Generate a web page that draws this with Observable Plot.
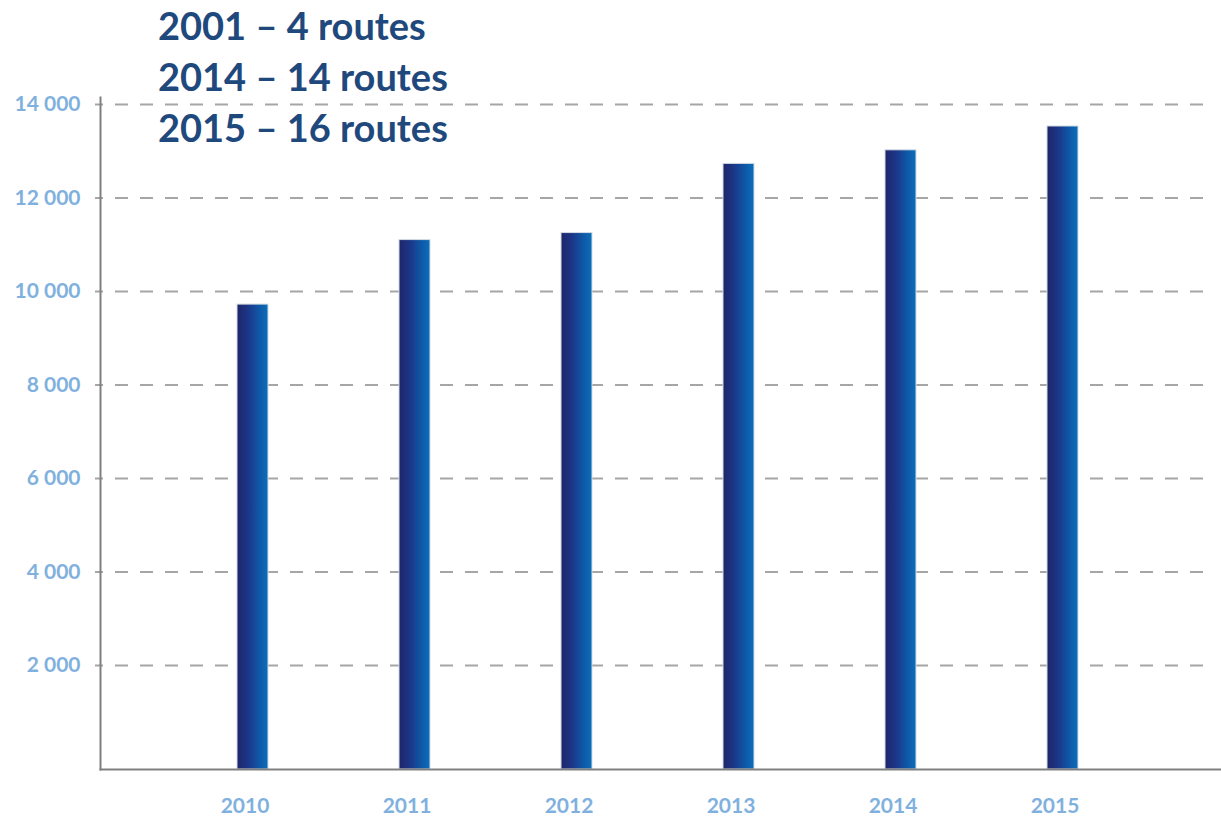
<!DOCTYPE html>
<html>
<head>
<meta charset="utf-8">
<script src="https://cdn.jsdelivr.net/npm/d3@7"></script>
<script src="https://cdn.jsdelivr.net/npm/@observablehq/plot@0.6"></script>
<style>
  html, body { margin: 0; padding: 0; background: #fff; }
  #wrap { position: relative; width: 1221px; height: 817px; }
  #title { position: absolute; left: 158px; top: 0; font-family: Lato, "Open Sans", sans-serif; font-weight: 700; font-size: 38px; color: #1f497d; line-height: 51px; z-index: 2; }
  #title div { white-space: nowrap; }
</style>
</head>
<body>
<div id="wrap">
  <div id="title">
    <div>2001 – 4 routes</div>
    <div>2014 – 14 routes</div>
    <div>2015 – 16 routes</div>
  </div>
  <div id="chart"></div>
</div>
<script>
const years = ["2010", "2011", "2012", "2013", "2014", "2015"];
const values = [9720, 11100, 11250, 12730, 13020, 13530];
const yTicks = [2000, 4000, 6000, 8000, 10000, 12000, 14000];
const yDomain = [-225, 14150];

const data = years.map((y, i) => ({year: y, value: values[i]}));
const fmt = d => d3.format(",")(d).replace(/,/g, " ");

const axisColor = "#808080";
const labelColor = "#80b1de";

const svg = Plot.plot({
  width: 1221,
  height: 817,
  marginTop: 97,
  marginBottom: 48,
  marginLeft: 100,
  marginRight: 0,
  style: {background: "#fff", fontFamily: "Lato, 'Open Sans', sans-serif", overflow: "visible"},
  x: {domain: years, paddingInner: 0.806, paddingOuter: 0.848, align: 0.49, label: null},
  y: {domain: yDomain, label: null},
  marks: [
    Plot.ruleY(yTicks, {y: d => d, stroke: "#a6a6a6", strokeWidth: 2, strokeDasharray: "13,12", strokeDashoffset: 5, insetLeft: -5, insetRight: 8}),
    Plot.barY(data, {x: "year", y1: yDomain[0], y2: "value", fill: "url(#barGrad)", stroke: "#d4dbe3", strokeWidth: 1}),
    Plot.frame({anchor: "left", stroke: axisColor, strokeWidth: 2}),
    Plot.frame({anchor: "bottom", stroke: axisColor, strokeWidth: 2}),
    Plot.axisY(yTicks, {tickSize: 0, tickPadding: 20, tickFormat: fmt, fontSize: 21, fontWeight: "bold", fill: labelColor, label: null}),
    Plot.axisX({tickSize: 0, tickPadding: 29, dx: -8, fontSize: 21, fontWeight: "bold", fill: labelColor, label: null})
  ]
});

const ns = "http://www.w3.org/2000/svg";
const defs = document.createElementNS(ns, "defs");
const grad = document.createElementNS(ns, "linearGradient");
grad.setAttribute("id", "barGrad");
grad.setAttribute("x1", "0"); grad.setAttribute("x2", "1");
grad.setAttribute("y1", "0"); grad.setAttribute("y2", "0");
[["0%", "#1f2568"], ["35%", "#1c3688"], ["70%", "#0f56a6"], ["100%", "#0a6fba"]].forEach(([o, c]) => {
  const s = document.createElementNS(ns, "stop");
  s.setAttribute("offset", o); s.setAttribute("stop-color", c);
  grad.appendChild(s);
});
defs.appendChild(grad);
svg.insertBefore(defs, svg.firstChild);

document.getElementById("chart").appendChild(svg);
</script>
</body>
</html>
